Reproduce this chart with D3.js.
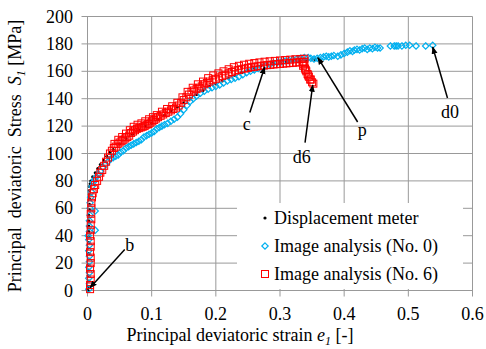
<!DOCTYPE html>
<html>
<head>
<meta charset="utf-8">
<script src="https://cdn.jsdelivr.net/npm/d3@7"></script>
<style>
  body { margin: 0; background: #fff; }
  svg { display: block; }
</style>
</head>
<body>
<div id="chart"></div>
<script>
// Displacement meter (strain e1 [-], stress S1 [MPa])
const dispStrain = [0.001,0.001,0.002,0.001,0.002,0.001,0.002,0.002,0.001,0.002,0.002,0.002,0.002,0.002,0.002,0.003,0.003,0.003,0.003,0.003,0.003,0.004,0.005,0.008,0.012,0.016,0.020,0.025,0.030,0.035,0.040,0.050,0.060,0.070,0.080,0.090,0.100,0.110,0.120,0.130,0.140,0.150,0.160,0.170,0.180,0.190,0.200,0.210,0.220,0.230,0.240,0.250,0.260,0.270,0.280,0.290,0.300,0.310,0.320,0.330,0.340,0.350,0.355];
const dispStress = [0,3,7,11,15,19,23,27,31,35,39,43,47,51,55,59,63,67,70,73,76,78,80,83,86,89,92,95,98,101,103,107,111,114,117,120,122,125,128,131,134,137,140,143,146,149,151,153,155,157,159,161,162.5,164,165,166,166.5,167,167.5,168,168,168.5,168.5];

// Image analysis (No. 0)
const img0Strain = [0.002,0.003,0.002,0.003,0.002,0.003,0.003,0.002,0.003,0.002,0.001,0.003,0.012,0.003,0.003,0.004,0.012,0.004,0.004,0.005,0.006,0.007,0.009,0.011,0.014,0.017,0.020,0.024,0.028,0.032,0.036,0.040,0.044,0.048,0.052,0.056,0.060,0.064,0.068,0.072,0.076,0.080,0.084,0.088,0.092,0.096,0.100,0.104,0.108,0.112,0.116,0.120,0.125,0.130,0.135,0.140,0.145,0.150,0.155,0.160,0.165,0.170,0.176,0.182,0.188,0.194,0.200,0.206,0.212,0.218,0.224,0.230,0.236,0.242,0.248,0.254,0.260,0.266,0.272,0.278,0.284,0.290,0.296,0.302,0.308,0.314,0.320,0.326,0.332,0.338,0.344,0.348,0.353,0.358,0.363,0.368,0.372,0.376,0.380,0.384,0.390,0.395,0.400,0.405,0.409,0.413,0.416,0.420,0.424,0.428,0.432,0.436,0.440,0.444,0.448,0.452,0.456,0.472,0.478,0.481,0.484,0.490,0.496,0.502,0.512,0.527,0.538];
const img0Stress = [1,5,9,13,17,21,25,29,33,37,40,43,44,47,51,55,58,60,64,68,72,76,79,81,83,85,87,90,92,94,96,97,98,99,101,102,104,105,106,107,108,109,110,112,113,114,115,116,118,119,120,121,122,123.5,125,126.5,129,132,135,138,140,142,144,145.5,147,148,149,150,151.5,153,154,155,156,157.5,159,160,161,162,163,164,165,166,166.5,167,167.5,168,168.5,169,169.5,170,170,169.5,169,169.5,170,170.5,171,170.5,171,171.5,171,172,173,174,175,174.5,175.5,176,175.5,176.5,177,176,177,176.5,177.5,177,177,178.5,178.5,178.5,178.5,178.5,179,179,178.5,178.5,179];

// Image analysis (No. 6)
const img6Strain = [0.004,0.004,0.005,0.005,0.004,0.005,0.005,0.004,0.005,0.005,0.004,0.005,0.005,0.006,0.005,0.006,0.006,0.007,0.008,0.010,0.012,0.015,0.018,0.020,0.023,0.026,0.029,0.032,0.035,0.038,0.041,0.044,0.047,0.050,0.053,0.056,0.059,0.062,0.065,0.068,0.071,0.074,0.077,0.080,0.083,0.086,0.089,0.092,0.095,0.098,0.101,0.104,0.107,0.110,0.114,0.118,0.122,0.126,0.130,0.134,0.138,0.142,0.146,0.150,0.154,0.158,0.162,0.166,0.170,0.174,0.178,0.182,0.186,0.190,0.195,0.200,0.205,0.210,0.215,0.220,0.225,0.230,0.235,0.240,0.245,0.250,0.255,0.260,0.265,0.270,0.275,0.280,0.285,0.290,0.295,0.300,0.305,0.310,0.315,0.320,0.325,0.330,0.335,0.338,0.337,0.339,0.341,0.343,0.345,0.347,0.350,0.352,
  0.042,0.048,0.054,0.060,0.066,0.072,0.078,0.084,0.090,0.096,0.102,0.108,0.116,0.124,0.132,0.140,0.148,0.156,0.164,0.172,0.180,0.188,0.196,0.204,0.212,0.220,0.228,0.236,0.244,0.252,0.260,0.268,0.276,0.284,0.292,0.300,0.308,0.316,0.324,0.332,0.338,0.336,0.340,0.344,0.348];
const img6Stress = [1,4,8,12,16,20,24,28,32,36,40,44,48,52,56,60,64,68,71,74,77,80,83,86,88,91,94,97,100,102,104,105,107,108,109,110,111,112,113,115,116,117,118,118.5,119,119.5,120,121,121.5,122.5,123.5,124.5,125.5,126.5,127.5,128.5,129.5,130.5,131.5,132.5,133.5,135,137,139,141,143,145,146,147,148,149,150.5,151.5,152.5,153.5,154.5,155.5,156.5,157.5,158.5,159.5,160.5,161,161.5,162,162.5,163,163.3,163.6,164,164.2,164.5,164.7,165,165.2,165.4,165.6,165.8,166,166.2,166.4,166.6,166.8,167,165,162,160,158,156,154,152,151,
  107,110,112,114.5,117,119.5,121,122,123.5,125,126.5,128,130.5,132.5,134.5,137,141,145,148,150.5,152.5,155,157,158.5,160,161.5,163,164,164.8,165.5,166,166.5,167,167.3,167.6,167.9,168.2,168.5,168.8,169,169.2,164,161,157,154];

// annotations: label, arrow tip, arrow tail, text anchor (data units)
const noteLabels = ['b', 'c', 'd6', 'p', 'd0'];
const noteTip = [[0.004, 2], [0.276, 163], [0.351, 150], [0.359, 170], [0.538, 177.7]];
const noteTail = [[0.058, 30], [0.253, 130], [0.339, 108], [0.421, 123], [0.561, 140.5]];
const noteText = [[0.066, 29], [0.248, 117], [0.334, 93], [0.428, 113], [0.565, 126]];

const xTicks = [0, 0.1, 0.2, 0.3, 0.4, 0.5, 0.6];
const yTicks = [0, 20, 40, 60, 80, 100, 120, 140, 160, 180, 200];
const seriesNames = ['Displacement meter', 'Image analysis (No. 0)', 'Image analysis (No. 6)'];

const width = 486, height = 349;
const font = '"Liberation Serif", "DejaVu Serif", serif';
const gridColor = '#999';
const cyan = '#00B0F0', red = '#FF0000';

const svg = d3.select('#chart').append('svg')
  .attr('width', width)
  .attr('height', height)
  .attr('font-family', font)
  .style('font-family', font);

const x = d3.scaleLinear().domain([0, 0.6]).range([87.5, 472.5]);
const y = d3.scaleLinear().domain([0, 200]).range([290.5, 16.5]);

// grid
svg.append('g')
  .selectAll('line')
  .data(xTicks)
  .enter().append('line')
  .attr('x1', d => x(d)).attr('x2', d => x(d))
  .attr('y1', y(200)).attr('y2', y(0) + 6)
  .attr('stroke', gridColor).attr('stroke-width', 1);

svg.append('g')
  .selectAll('line')
  .data(yTicks)
  .enter().append('line')
  .attr('x1', x(0) - 6).attr('x2', x(0.6))
  .attr('y1', d => y(d)).attr('y2', d => y(d))
  .attr('stroke', gridColor).attr('stroke-width', 1);

// tick labels
svg.append('g')
  .selectAll('text')
  .data(xTicks)
  .enter().append('text')
  .attr('x', d => x(d))
  .attr('y', 320)
  .attr('text-anchor', 'middle')
  .style('font-size', '18px')
  .text(d => d);

svg.append('g')
  .selectAll('text')
  .data(yTicks)
  .enter().append('text')
  .attr('x', 73)
  .attr('y', d => y(d) + 6)
  .attr('text-anchor', 'end')
  .style('font-size', '18px')
  .text(d => d);

// axis titles
const xt = svg.append('text')
  .attr('x', 240).attr('y', 341)
  .attr('text-anchor', 'middle')
  .style('font-size', '18px');
xt.append('tspan').text('Principal deviatoric strain ');
xt.append('tspan').style('font-style', 'italic').text('e');
xt.append('tspan').style('font-style', 'italic').style('font-size', '12px').attr('dy', 4).text('1');
xt.append('tspan').attr('dy', -4).text(' [-]');

const yt = svg.append('text')
  .attr('transform', 'translate(21,156) rotate(-90)')
  .attr('text-anchor', 'middle')
  .attr('xml:space', 'preserve')
  .style('font-size', '18px')
  .style('white-space', 'pre');
yt.append('tspan').text('Principal  deviatoric  Stress  ');
yt.append('tspan').style('font-style', 'italic').text('S');
yt.append('tspan').style('font-style', 'italic').style('font-size', '12px').attr('dy', 4).text('1');
yt.append('tspan').attr('dy', -4).text(' [MPa]');

// data
const plot = svg.append('g');

plot.selectAll('.disp')
  .data(d3.zip(dispStrain, dispStress))
  .enter().append('circle')
  .attr('class', 'disp')
  .attr('cx', d => x(d[0])).attr('cy', d => y(d[1]))
  .attr('r', 1.5)
  .attr('fill', '#000');

const diamond = d3.symbol().type(d3.symbolDiamond2).size(26);
plot.selectAll('.img0')
  .data(d3.zip(img0Strain, img0Stress))
  .enter().append('path')
  .attr('class', 'img0')
  .attr('d', diamond)
  .attr('transform', d => `translate(${x(d[0])},${y(d[1])})`)
  .attr('fill', 'none')
  .attr('stroke', cyan)
  .attr('stroke-width', 1.2);

plot.selectAll('.img6')
  .data(d3.zip(img6Strain, img6Stress))
  .enter().append('rect')
  .attr('class', 'img6')
  .attr('x', d => x(d[0]) - 3.5).attr('y', d => y(d[1]) - 3.5)
  .attr('width', 7).attr('height', 7)
  .attr('fill', 'none')
  .attr('stroke', red)
  .attr('stroke-width', 1);

// annotations
svg.append('defs').append('marker')
  .attr('id', 'arrow')
  .attr('viewBox', '0 0 10 10')
  .attr('refX', 9).attr('refY', 5)
  .attr('markerWidth', 5).attr('markerHeight', 5)
  .attr('orient', 'auto')
  .append('path')
  .attr('d', 'M0,1 L10,5 L0,9 Z')
  .attr('fill', '#000');

noteLabels.forEach((lab, i) => {
  svg.append('line')
    .attr('x1', x(noteTail[i][0])).attr('y1', y(noteTail[i][1]))
    .attr('x2', x(noteTip[i][0])).attr('y2', y(noteTip[i][1]))
    .attr('stroke', '#000')
    .attr('stroke-width', 1.5)
    .attr('marker-end', 'url(#arrow)');
  svg.append('text')
    .attr('x', x(noteText[i][0])).attr('y', y(noteText[i][1]))
    .attr('text-anchor', 'middle')
    .style('font-size', '18px')
    .text(lab);
});

// legend
const lg = svg.append('g');
lg.append('rect')
  .attr('x', 237).attr('y', 203)
  .attr('width', 226).attr('height', 86)
  .attr('fill', '#fff');

const rowsY = [218, 246, 274];
lg.append('circle').attr('cx', 265).attr('cy', rowsY[0]).attr('r', 1.6).attr('fill', '#000');
lg.append('path').attr('d', diamond)
  .attr('transform', `translate(265,${rowsY[1]})`)
  .attr('fill', 'none').attr('stroke', cyan).attr('stroke-width', 1.2);
lg.append('rect').attr('x', 261.5).attr('y', rowsY[2] - 3.5)
  .attr('width', 7).attr('height', 7)
  .attr('fill', 'none').attr('stroke', red).attr('stroke-width', 1);

lg.selectAll('.lt')
  .data(seriesNames)
  .enter().append('text')
  .attr('class', 'lt')
  .attr('x', 274)
  .attr('y', (d, i) => rowsY[i] + 6)
  .style('font-size', '18px')
  .text(d => d);
</script>
</body>
</html>
